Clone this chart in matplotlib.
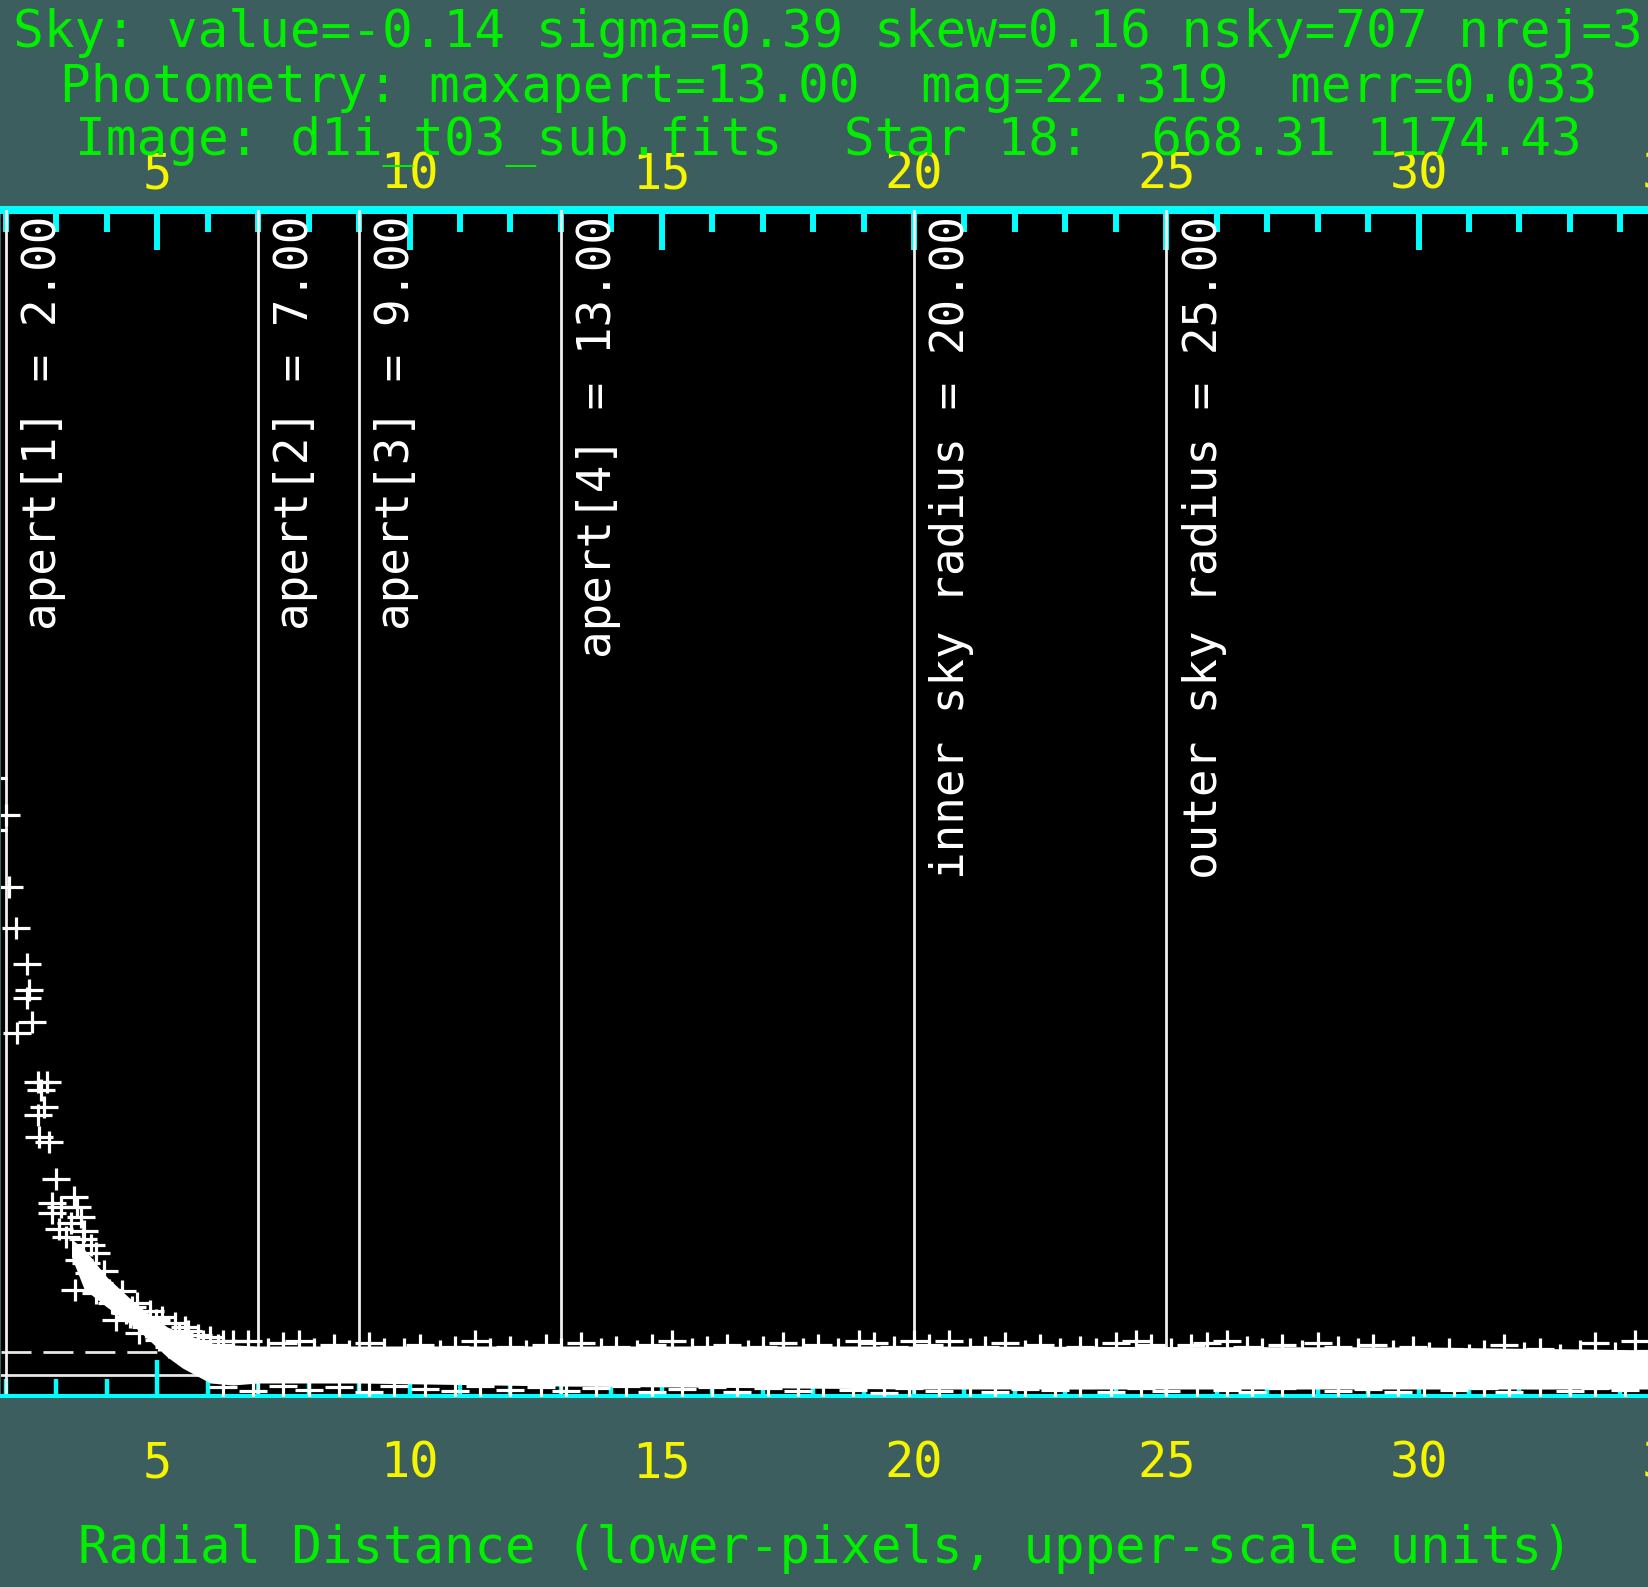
import matplotlib
matplotlib.use("Agg")
import matplotlib.pyplot as plt
from matplotlib.path import Path
from matplotlib.ticker import MultipleLocator

# header text
sky_line = "Sky: value=-0.14 sigma=0.39 skew=0.16 nsky=707 nrej=3"
phot_line = "Photometry: maxapert=13.00  mag=22.319  merr=0.033"
image_line = "Image: d1i_t03_sub.fits  Star 18:  668.31 1174.43"
x_title = "Radial Distance (lower-pixels, upper-scale units)"

# apertures and sky annulus (pixels)
radii = [2.0, 7.0, 9.0, 13.0, 20.0, 25.0]
radii_labels = ["apert[1] = 2.00", "apert[2] = 7.00", "apert[3] = 9.00",
                "apert[4] = 13.00", "inner sky radius = 20.00",
                "outer sky radius = 25.00"]

# star profile
core_r = [1.74, 2.00, 1.74, 2.06, 2.20, 2.42, 2.46, 2.42, 2.52, 2.22,
          2.64, 2.82, 2.70, 2.76, 2.64, 2.86, 2.66, 2.99, 3.09, 2.91,
          2.91, 3.41, 3.49, 3.35, 3.69, 3.59, 3.45, 3.79, 3.65, 3.85,
          3.79, 4.04, 4.24, 4.38, 4.50, 4.18, 4.64, 4.78, 4.97, 5.04,
          5.23, 5.43, 5.60, 3.30, 3.55, 4.10, 4.45, 4.90, 3.05, 3.20,
          3.37, 3.52, 3.95, 4.30, 4.60, 4.85, 5.10, 5.35, 5.55, 5.80,
          6.05, 6.30]
core_v = [29.85, 28.0, 27.25, 24.4, 22.35, 20.55, 19.25, 18.85, 17.65, 17.1,
          14.65, 14.65, 14.25, 13.4, 13.0, 11.65, 11.9, 9.8, 8.4, 8.6,
          8.1, 8.4, 7.9, 8.9, 6.5, 5.6, 5.75, 6.1, 5.1, 4.6,
          4.1, 4.25, 3.75, 3.1, 3.4, 2.75, 2.1, 2.4, 2.75, 1.75,
          1.4, 2.1, 2.2, 7.6, 7.2, 3.6, 2.9, 2.3, 7.3, 6.9,
          4.25, 6.8, 5.2, 4.2, 3.6, 3.2, 2.9, 2.6, 2.4, 2.0,
          1.9, 1.7]

# noisy top of the sky pixels
edge_r = [5.6, 5.9, 6.2, 6.5, 6.8, 7.2, 7.5, 7.8, 8.1, 8.5,
          8.8, 9.2, 9.5, 9.9, 10.2, 10.6, 10.9, 11.3, 11.6, 12.0,
          12.3, 12.7, 13.0, 13.4, 13.8, 14.1, 14.5, 14.8, 15.2, 15.6,
          15.9, 16.3, 16.7, 17.0, 17.4, 17.8, 18.1, 18.5, 18.9, 19.2,
          19.6, 20.0, 20.3, 20.7, 21.1, 21.4, 21.8, 22.2, 22.5, 22.9,
          23.3, 23.6, 24.0, 24.4, 24.7, 25.1, 25.5, 25.8, 26.2, 26.6,
          26.9, 27.3, 27.7, 28.0, 28.4, 28.8, 29.1, 29.5, 29.9, 30.2,
          30.6, 31.0, 31.3, 31.7, 32.1, 32.4, 32.8, 33.2, 33.5, 33.9,
          34.3, 34.6]
edge_v = [1.6, 1.7, 1.5, 1.7, 1.7, 1.3, 1.6, 1.7, 1.3, 1.5,
          1.2, 1.6, 1.3, 1.3, 1.5, 1.2, 1.4, 1.7, 1.3, 1.4,
          1.2, 1.5, 1.3, 1.6, 1.3, 1.4, 1.2, 1.5, 1.7, 1.3,
          1.4, 1.5, 1.2, 1.4, 1.6, 1.3, 1.5, 1.3, 1.7, 1.6,
          1.4, 1.7, 1.5, 1.7, 1.3, 1.4, 1.6, 1.2, 1.5, 1.3,
          1.4, 1.3, 1.6, 1.7, 1.5, 1.3, 1.5, 1.6, 1.7, 1.4,
          1.3, 1.5, 1.2, 1.6, 1.4, 1.3, 1.5, 1.2, 1.4, 1.1,
          1.3, 1.0, 1.2, 1.5, 1.1, 1.3, 1.0, 1.2, 1.6, 1.1,
          1.7, 1.2]

# lowest sky pixels
low_r = [6.3, 6.9, 7.5, 8.0, 8.6, 9.2, 9.7, 10.3, 10.9, 11.4,
         12.0, 12.6, 13.1, 13.7, 14.3, 14.8, 15.4, 16.0, 16.5, 17.1,
         17.7, 18.2, 18.8, 19.4, 19.9, 20.5, 21.1, 21.6, 22.2, 22.8,
         23.3, 23.9, 24.5, 25.0, 25.6, 26.2, 26.7, 27.3, 27.9, 28.4,
         29.0, 29.6, 30.1, 30.7, 31.3, 31.8, 32.4, 33.0, 33.5, 34.1]
low_v = [-0.6, -0.8, -0.55, -0.75, -0.6, -0.85, -0.55, -0.7, -0.8, -0.55,
         -0.75, -0.6, -0.8, -0.65, -0.55, -0.85, -0.7, -0.6, -0.85, -0.65,
         -0.8, -0.55, -0.75, -0.9, -0.65, -0.8, -0.55, -0.85, -0.7, -0.75,
         -0.6, -0.85, -0.65, -0.8, -0.55, -0.75, -0.85, -0.65, -0.55, -0.8,
         -0.7, -0.85, -0.55, -0.75, -0.65, -0.85, -0.6, -0.8, -0.65, -0.75]

# solid body of the sky band and the star's wing
band_r = [3.3, 3.55, 4.0, 4.6, 5.2, 5.5, 6.05, 6.5, 7.0, 9.0, 13.0, 20.0,
          30.0, 34.8]
band_lo = [5.9, 4.3, 3.4, 2.3, 0.9, 0.35, -0.4, -0.5, -0.4, -0.4, -0.55,
           -0.7, -0.7, -0.7]
band_hi = [6.8, 6.3, 4.9, 3.5, 2.4, 2.1, 1.6, 1.5, 1.45, 1.45, 1.45, 1.45,
           1.4, 1.25]

zero_level = 0.0
dash_level = 1.15

bg = "#3d5e5e"
green = "#00f000"
yellow = "#f5f500"
cyan = "#00ffff"

plt.rcParams["font.family"] = ["DejaVu Sans Mono"]

cross = Path([(-1, 0), (1, 0), (0, -0.82), (0, 0.82)],
             [Path.MOVETO, Path.LINETO, Path.MOVETO, Path.LINETO])

fig = plt.figure(figsize=(16.48, 15.87), dpi=100, facecolor=bg)
ax = fig.add_axes([0.000825, 0.12035, 1.01299, 0.74732])
ax.set_facecolor("black")
ax.set_xlim(1.91, 35.0)
ax.set_ylim(-1.05, 58.25)

ax.axhline(zero_level, color="#e8e8e8", lw=2.0, zorder=1.5)
ax.axhline(dash_level, color="#e8e8e8", lw=2.0, dashes=(10.8, 4.3), zorder=1.5)

for r, lab in zip(radii, radii_labels):
    ax.axvline(r, color="#f0f0f0", lw=2.0, zorder=2)
    ax.annotate(lab, xy=(r, 1.0), xycoords=ax.get_xaxis_transform(),
                xytext=(11, -4), textcoords="offset points", rotation=90,
                ha="left", va="top", color="white", fontsize=33)

ax.fill_between(band_r, band_lo, band_hi, color="white", lw=0, zorder=3)
for rr, vv in [(core_r, core_v), (edge_r, edge_v), (low_r, low_v)]:
    ax.plot(rr, vv, ls="none", marker=cross, ms=20, mew=2.3,
            color="white", zorder=3)

# bottom axis
ax.xaxis.set_major_locator(MultipleLocator(5))
ax.xaxis.set_minor_locator(MultipleLocator(1))
ax.tick_params(axis="x", which="both", direction="in", color=cyan,
               labelcolor=yellow, labelsize=35, pad=31, top=False)
ax.tick_params(axis="x", which="major", length=26, width=3.2)
ax.tick_params(axis="x", which="minor", length=12.2, width=3.2)
ax.tick_params(axis="y", left=False, labelleft=False)
for s in ["left", "right", "top"]:
    ax.spines[s].set_visible(False)
ax.spines["bottom"].set_color(cyan)
ax.spines["bottom"].set_linewidth(2.9)

# upper scale axis
sec = ax.secondary_xaxis("top")
sec.xaxis.set_major_locator(MultipleLocator(5))
sec.xaxis.set_minor_locator(MultipleLocator(1))
sec.tick_params(axis="x", which="both", direction="in", color=cyan,
                labelcolor=yellow, labelsize=35, pad=8.6)
sec.tick_params(axis="x", which="major", length=28.8, width=4.3)
sec.tick_params(axis="x", which="minor", length=15.8, width=4.3)
sec.spines["top"].set_color(cyan)
sec.spines["top"].set_linewidth(5.8)

for y, txt in [(0.9704, sky_line), (0.9357, phot_line), (0.9023, image_line)]:
    fig.text(0.5026, y, txt, ha="center", va="baseline", color=green,
             fontsize=36.8)
fig.text(0.5006, 0.0151, x_title, ha="center", va="baseline", color=green,
         fontsize=36.5)

fig.savefig("out.png", dpi=100, facecolor=bg)
